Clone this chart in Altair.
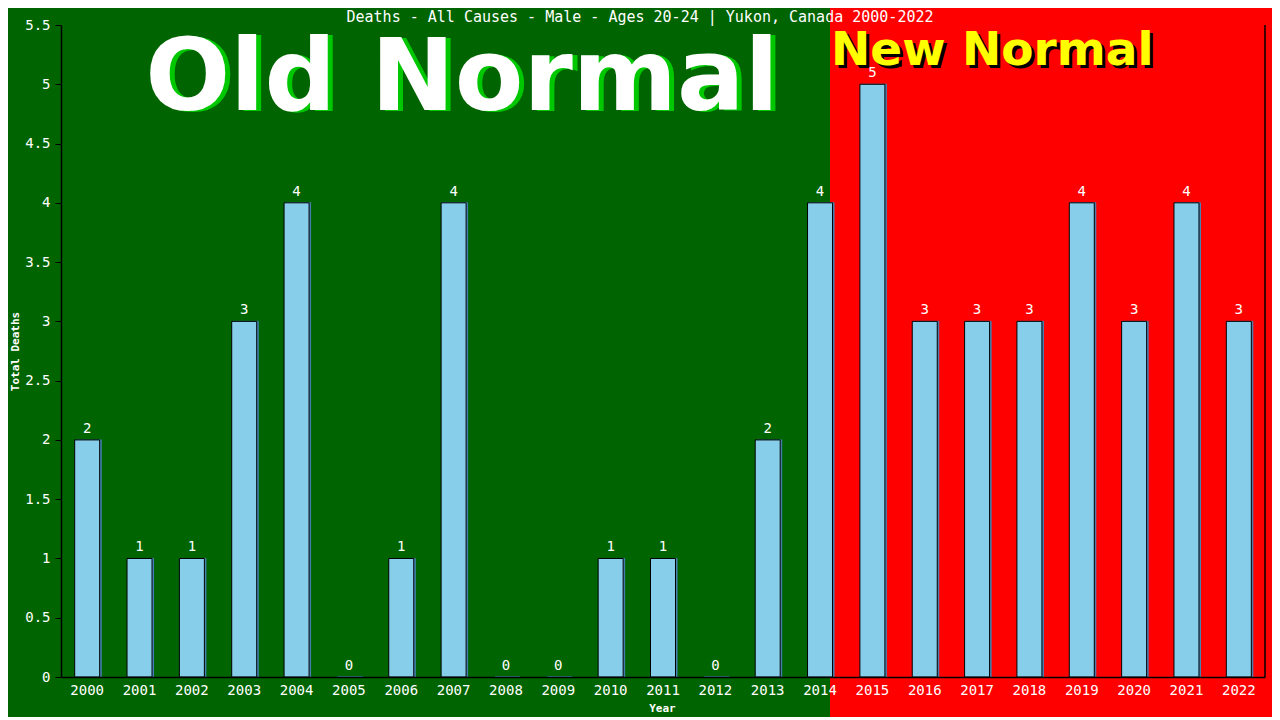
import altair as alt
import pandas as pd

years = [str(y) for y in range(2000, 2023)]
deaths = [2, 1, 1, 3, 4, 0, 1, 4, 0, 0, 1, 1, 0, 2, 4, 5, 3, 3, 3, 4, 3, 4, 3]
y_ticks = [0, 0.5, 1, 1.5, 2, 2.5, 3, 3.5, 4, 4.5, 5, 5.5]
title_text = "Deaths - All Causes - Male - Ages 20-24 | Yukon, Canada 2000-2022"
old_label = "Old Normal"
new_label = "New Normal"
x_title = "Year"
y_title = "Total Deaths"

W, H = 1204, 652
MONO = "DejaVu Sans Mono"

df = pd.DataFrame({"Year": years, "Deaths": deaths})
one = pd.DataFrame({"t": [0]})

xenc = alt.X("Year:N", sort=years,
             scale=alt.Scale(paddingInner=0, paddingOuter=0),
             axis=alt.Axis(title=x_title, labelAngle=0, ticks=False, labelPadding=6,
                           labelFont=MONO, labelFontSize=14, labelColor="white",
                           domainColor="black", domainWidth=1.5,
                           titleFont=MONO, titleFontSize=11, titleFontWeight="bold",
                           titleColor="white", titleX=601, titleY=31,
                           titleBaseline="middle", titleAlign="center",
                           grid=False, zindex=1))
yenc = alt.Y("Deaths:Q", scale=alt.Scale(domain=[0, 5.5], nice=False),
             axis=alt.Axis(title=y_title, values=y_ticks, format="~g",
                           tickSize=6, tickColor="black", labelPadding=5,
                           labelFont=MONO, labelFontSize=14, labelColor="white",
                           domainColor="black", domainWidth=1.5,
                           titleFont=MONO, titleFontSize=11, titleFontWeight="bold",
                           titleColor="white", titleX=-46, titleY=326,
                           titleAngle=-90, titleBaseline="middle", titleAlign="center",
                           grid=False, zindex=1))

red_bg = alt.Chart(one).mark_rect(color="#FF0000").encode(
    x=alt.value(769), x2=alt.value(1230), y=alt.value(-30), y2=alt.value(720))

title_mark = alt.Chart(one).mark_text(
    text=title_text, font=MONO, fontSize=15, color="white",
    align="center", baseline="middle").encode(x=alt.value(579), y=alt.value(-8))

old_shadow = alt.Chart(one).mark_text(
    text=old_label, font="DejaVu Sans", fontSize=100, fontWeight="bold",
    color="#00C800", align="center", baseline="alphabetic").encode(
    x=alt.value(406), y=alt.value(86))
old_text = alt.Chart(one).mark_text(
    text=old_label, font="DejaVu Sans", fontSize=100, fontWeight="bold",
    color="white", align="center", baseline="alphabetic").encode(
    x=alt.value(401), y=alt.value(85))

new_shadow = alt.Chart(one).mark_text(
    text=new_label, font="DejaVu Sans", fontSize=47, fontWeight="bold",
    color="black", align="left", baseline="alphabetic").encode(
    x=alt.value(773), y=alt.value(43))
new_text = alt.Chart(one).mark_text(
    text=new_label, font="DejaVu Sans", fontSize=47, fontWeight="bold",
    color="#FFFF00", align="left", baseline="alphabetic").encode(
    x=alt.value(770), y=alt.value(40))

base = alt.Chart(df)
shadow_bars = base.mark_bar(size=25, color="#4682B4", stroke="#4682B4",
                            strokeWidth=1, xOffset=1.5).encode(x=xenc, y=yenc)
bars = base.transform_filter("datum.Deaths > 0").mark_bar(
    size=25, color="#87CEEB", stroke="black", strokeWidth=1).encode(x=xenc, y=yenc)
labels = base.mark_text(font=MONO, fontSize=14, color="white",
                        baseline="alphabetic", dy=-7).encode(
    x=xenc, y=yenc, text=alt.Text("Deaths:Q"))

right_line = alt.Chart(one).mark_rule(color="black", strokeWidth=1.5).encode(
    x=alt.value(W), y=alt.value(0), y2=alt.value(H))

chart = alt.layer(
    red_bg, title_mark, old_shadow, old_text, new_shadow, new_text,
    shadow_bars, bars, labels, right_line
).properties(
    width=W, height=H,
    autosize=alt.AutoSizeParams(type="none"),
    padding={"left": 53, "top": 17, "right": 7, "bottom": 40},
).configure(background="#006400").configure_view(stroke=None)

chart.save("out.html", embed_options={"renderer": "svg", "actions": False})
